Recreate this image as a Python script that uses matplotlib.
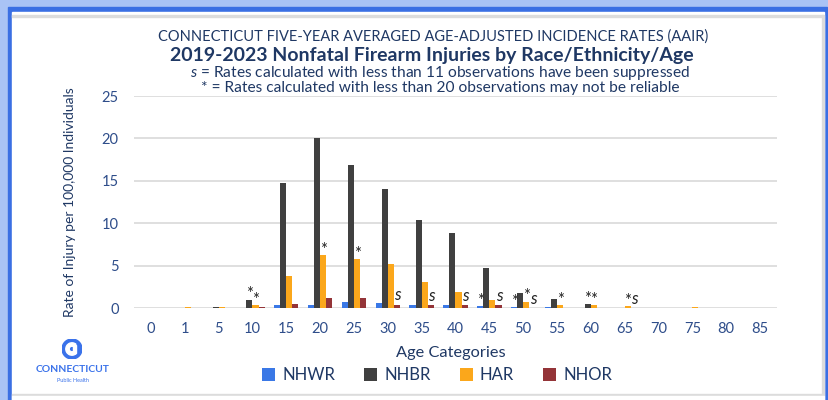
import matplotlib

matplotlib.use("Agg")

import matplotlib.pyplot as plt
from matplotlib.patches import Rectangle, Circle, Wedge
import numpy as np

plt.rcParams["font.family"] = ["Lato", "DejaVu Sans"]
plt.rcParams["mathtext.fontset"] = "custom"
plt.rcParams["mathtext.it"] = "Lato:italic"

NAVY = "#1F3864"
TICK = "#2E4D8A"

ages = ["0", "1", "5", "10", "15", "20", "25", "30", "35", "40",
        "45", "50", "55", "60", "65", "70", "75", "80", "85"]
nhwr = [0, 0, 0, 0, 0.35, 0.3, 0.7, 0.6, 0.3, 0.4, 0.2, 0.15, 0.1, 0, 0, 0, 0, 0, 0]
nhbr = [0, 0, 0.1, 1.0, 14.7, 20.0, 16.9, 14.0, 10.4, 8.8, 4.75, 1.8, 1.05, 0.5, 0, 0, 0, 0, 0]
har = [0, 0.1, 0.1, 0.3, 3.8, 6.2, 5.8, 5.2, 3.1, 1.9, 1.0, 0.75, 0.3, 0.3, 0.2, 0, 0.1, 0, 0]
nhor = [0, 0, 0, 0.1, 0.45, 1.2, 1.2, 0.4, 0.3, 0.3, 0.3, 0, 0, 0, 0, 0, 0, 0, 0]

series = {"NHWR": nhwr, "NHBR": nhbr, "HAR": har, "NHOR": nhor}
colors = {"NHWR": "#3A78E6", "NHBR": "#404040", "HAR": "#FBA71B", "NHOR": "#943438"}

# (age index, series, flag)
flags = [(3, "NHBR", "*"), (3, "HAR", "*"), (5, "HAR", "*"), (6, "HAR", "*"),
         (7, "NHOR", "s"), (8, "NHOR", "s"), (9, "NHOR", "s"),
         (10, "NHWR", "*"), (10, "NHOR", "s"),
         (11, "NHWR", "*"), (11, "HAR", "*"), (11, "NHOR", "s"),
         (12, "HAR", "*"), (13, "NHBR", "*"), (13, "HAR", "*"),
         (14, "HAR", "*"), (14, "NHOR", "s")]

W, H = 829, 400
fig = plt.figure(figsize=(W / 100, H / 100), dpi=100)
fig.patch.set_facecolor("#A9C3F5")


def box(x0, y0, x1, y1, color):
    fig.patches.append(Rectangle((x0 / W, 1 - y1 / H), (x1 - x0) / W, (y1 - y0) / H,
                                 transform=fig.transFigure, color=color, zorder=-5))


# frame
box(8, 7, 827, 400, "#3A6FE3")
box(12, 12, 824, 400, "white")
box(12, 15, 823, 17, "#DCDCDC")
box(822, 15, 824, 396, "#DCDCDC")
box(12, 394, 823, 396, "#DCDCDC")
box(12, 396, 824, 400, "white")

ax = fig.add_axes([134 / W, 1 - 308 / H, 643 / W, 212 / H])
ax.set_facecolor("none")

x = np.arange(len(ages))
width = 0.18
offsets = {"NHWR": -1.5, "NHBR": -0.5, "HAR": 0.5, "NHOR": 1.5}
for name, vals in series.items():
    ax.bar(x + offsets[name] * width, vals, width=width, color=colors[name],
           label=name, zorder=3)

for i, name, flag in flags:
    val = series[name][i]
    xi = x[i] + offsets[name] * width
    if flag == "s":
        ax.annotate("s", (xi, val), xytext=(0.5, 1), textcoords="offset points",
                    ha="center", va="bottom", fontsize=12, style="italic",
                    color="#222222", zorder=4)
    else:
        ax.annotate("*", (xi, val), xytext=(0, -2), textcoords="offset points",
                    ha="center", va="bottom", fontsize=12, color="#222222", zorder=4)

ax.set_xlim(-0.5, len(ages) - 0.5)
ax.set_ylim(0, 25)
ax.set_yticks([0, 5, 10, 15, 20, 25])
ax.set_xticks(x)
ax.set_xticklabels(ages)
ax.tick_params(axis="both", length=0, labelsize=10.5, labelcolor=TICK)
ax.tick_params(axis="y", pad=11)
ax.tick_params(axis="x", pad=10)
ax.grid(axis="y", color="#D9D9D9", linewidth=1.2, zorder=0)
ax.set_axisbelow(True)
for side in ["top", "right", "left", "bottom"]:
    ax.spines[side].set_visible(False)

ax.set_ylabel("Rate of Injury per 100,000 Individuals", fontsize=10, color=NAVY)
ax.yaxis.set_label_coords(-0.09, 0.5)
fig.text(451 / W, 1 - 353 / H, "Age Categories", ha="center", va="center", fontsize=11.8, color=NAVY)

fig.text(433 / W, 1 - 37 / H, "CONNECTICUT FIVE-YEAR AVERAGED AGE-ADJUSTED INCIDENCE RATES (AAIR)",
         ha="center", va="center", fontsize=10.5, color=NAVY)
fig.text(432 / W, 1 - 56 / H, "2019-2023 Nonfatal Firearm Injuries by Race/Ethnicity/Age",
         ha="center", va="center", fontsize=14, fontweight="bold", color=NAVY)
fig.text(440 / W, 1 - 79.5 / H,
         "$\\it{s}$ = Rates calculated with less than 11 observations have been suppressed\n"
         "* = Rates calculated with less than 20 observations may not be reliable",
         ha="center", va="center", multialignment="center", linespacing=0.84,
         fontsize=11.2, color=NAVY)

leg = fig.legend(loc="center", bbox_to_anchor=(437 / W, 1 - 375 / H), ncol=4, frameon=False,
                 fontsize=12, handlelength=0.8, handleheight=0.8, handletextpad=0.4,
                 columnspacing=1.75)
for t in leg.get_texts():
    t.set_color(NAVY)

# logo
logo_blue = "#3A72EA"
lax = fig.add_axes([62 / W, 1 - 359 / H, 20 / W, 20 / H])
lax.set_xlim(-1, 1)
lax.set_ylim(-1, 1)
lax.axis("off")
lax.add_patch(Circle((0, 0), 1, color=logo_blue))
lax.add_patch(Wedge((0, 0), 0.62, 50, 310, width=0.34, color="white"))
lax.add_patch(Rectangle((0.05, -0.42), 0.3, 0.84, color="white"))
fig.text(73 / W, 1 - 369 / H, "CONNECTICUT", ha="center", va="center", fontsize=7.5,
         fontweight="bold", color=logo_blue)
fig.text(73 / W, 1 - 381 / H, "Public Health", ha="center", va="center", fontsize=4,
         color=logo_blue)

fig.savefig("out.png", dpi=100, facecolor=fig.get_facecolor())
